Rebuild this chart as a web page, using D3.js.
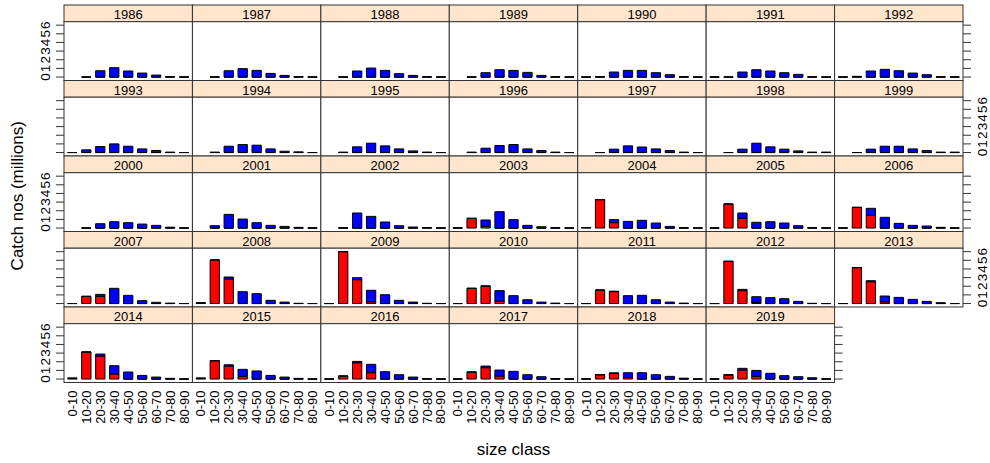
<!DOCTYPE html>
<html>
<head>
<meta charset="utf-8">
<script src="https://cdn.jsdelivr.net/npm/d3@7"></script>
<style>
  body { margin: 0; background: #fff; }
  text { font-family: "Liberation Sans", Arial, sans-serif; fill: #000; }
</style>
</head>
<body>
<div id="chart"></div>
<script>
// catch numbers (millions) by size class, two stacked series
var years = d3.range(1986, 2020);
var sizeClasses = ["0-10", "10-20", "20-30", "30-40", "40-50", "50-60", "60-70", "70-80", "80-90"];
var yTicks = [0, 1, 2, 3, 4, 5, 6];

// red = bottom segment, blue = top segment; null = no bar
var redCatch = [
  [null, 0, 0, 0, 0, 0, 0, 0, 0],            // 1986
  [null, 0, 0, 0, 0, 0, 0, 0, 0],            // 1987
  [null, 0, 0, 0, 0, 0, 0, 0, 0],            // 1988
  [null, 0, 0, 0, 0, 0, 0, 0, 0],            // 1989
  [0, 0, 0, 0, 0, 0, 0, 0, 0],               // 1990
  [0, 0, 0, 0, 0, 0, 0, 0, 0],               // 1991
  [0, 0, 0, 0, 0, 0, 0, 0, 0],               // 1992
  [0, 0, 0, 0, 0, 0, 0, 0, 0],               // 1993
  [null, 0, 0, 0, 0, 0, 0, 0, 0],            // 1994
  [null, 0, 0, 0, 0, 0, 0, 0, 0],            // 1995
  [null, 0, 0, 0, 0, 0, 0, 0, 0],            // 1996
  [null, 0, 0, 0, 0, 0, 0, 0, 0],            // 1997
  [null, 0, 0, 0, 0, 0, 0, 0, 0],            // 1998
  [null, 0, 0, 0, 0, 0, 0, 0, 0],            // 1999
  [null, 0, 0, 0, 0, 0, 0, 0, 0],            // 2000
  [null, 0, 0, 0, 0, 0, 0, 0, 0],            // 2001
  [null, 0, 0, 0, 0, 0, 0, 0, 0],            // 2002
  [0, 1.12, 0.2, 0, 0, 0, 0, 0, 0],          // 2003
  [0.05, 3.28, 0.62, 0, 0, 0, 0, 0, 0],      // 2004
  [0, 2.78, 1.12, 0, 0, 0, 0, 0, 0],         // 2005
  [0, 2.39, 1.47, 0, 0, 0, 0, 0, 0],         // 2006
  [0, 0.83, 0.83, 0, 0, 0, 0, 0, 0],         // 2007
  [0.08, 5.04, 2.84, 0, 0, 0, 0, 0, 0],      // 2008
  [0, 6.0, 2.76, 0.2, 0, 0, 0, 0, 0],        // 2009
  [0, 1.76, 2.0, 0.29, 0, 0, 0, 0, 0],       // 2010
  [0, 1.56, 1.38, 0, 0, 0, 0, 0, 0],         // 2011
  [0, 4.88, 1.49, 0.15, 0, 0, 0, 0, 0],      // 2012
  [0, 4.15, 2.53, 0.2, 0, 0, 0, 0, 0],       // 2013
  [0.1, 3.13, 2.66, 0.58, 0, 0, 0, 0, 0],    // 2014
  [0.1, 2.12, 1.5, 0.31, 0, 0, 0, 0, 0],     // 2015
  [0, 0.35, 1.89, 0.73, 0, 0, 0, 0, 0],      // 2016
  [0, 0.81, 1.31, 0.35, 0, 0, 0, 0, 0],      // 2017
  [0, 0.5, 0.66, 0.19, 0, 0, 0, 0, 0],       // 2018
  [0, 0.46, 1.04, 0.31, 0, 0, 0, 0, 0]       // 2019
];
var blueCatch = [
  [null, 0, 0.73, 1.08, 0.7, 0.46, 0.23, 0.05, 0],     // 1986
  [null, 0, 0.73, 0.97, 0.77, 0.42, 0.19, 0.05, 0],    // 1987
  [null, 0, 0.7, 1.04, 0.77, 0.39, 0.19, 0.03, 0],     // 1988
  [null, 0, 0.5, 0.85, 0.77, 0.54, 0.19, 0.03, 0],     // 1989
  [0, 0.05, 0.58, 0.77, 0.77, 0.5, 0.27, 0.03, 0],     // 1990
  [0, 0, 0.58, 0.85, 0.7, 0.5, 0.31, 0.03, 0],         // 1991
  [0, 0.08, 0.7, 0.89, 0.73, 0.46, 0.27, 0.03, 0],     // 1992
  [0, 0.31, 0.7, 1.0, 0.73, 0.42, 0.23, 0.05, 0],      // 1993
  [null, 0.05, 0.73, 0.93, 0.85, 0.42, 0.15, 0.08, 0], // 1994
  [null, 0.05, 0.66, 1.08, 0.77, 0.42, 0.19, 0.05, 0], // 1995
  [null, 0.05, 0.5, 0.81, 0.93, 0.42, 0.23, 0.05, 0],  // 1996
  [null, 0, 0.39, 0.77, 0.64, 0.42, 0.23, 0.05, 0],    // 1997
  [null, 0, 0.39, 1.08, 0.66, 0.39, 0.19, 0.05, 0.05], // 1998
  [null, 0, 0.39, 0.73, 0.73, 0.42, 0.23, 0.05, 0.05], // 1999
  [null, 0, 0.5, 0.73, 0.62, 0.46, 0.31, 0.1, 0],      // 2000
  [null, 0.27, 1.58, 1.04, 0.62, 0.31, 0.19, 0.08, 0], // 2001
  [null, 0.05, 1.74, 1.35, 0.7, 0.27, 0.12, 0.05, 0],  // 2002
  [0.03, 0, 0.73, 1.89, 0.97, 0.31, 0.15, 0.03, 0],    // 2003
  [0, 0, 0.35, 0.77, 0.89, 0.58, 0.19, 0.03, 0],       // 2004
  [0, 0, 0.62, 0.66, 0.73, 0.58, 0.27, 0.03, 0],       // 2005
  [0, 0, 0.81, 1.24, 0.54, 0.31, 0.23, 0.08, 0],       // 2006
  [0, 0, 0.23, 1.76, 0.95, 0.33, 0.14, 0.05, 0],       // 2007
  [0, 0, 0.23, 1.37, 1.14, 0.37, 0.17, 0.03, 0],       // 2008
  [0, 0, 0.23, 1.33, 1.02, 0.37, 0.17, 0.03, 0],       // 2009
  [0, 0, 0.05, 1.2, 0.91, 0.44, 0.17, 0.05, 0],        // 2010
  [0, 0, 0.05, 0.91, 0.95, 0.44, 0.17, 0.05, 0],       // 2011
  [0, 0, 0.15, 0.64, 0.68, 0.56, 0.25, 0.03, 0],       // 2012
  [0, 0, 0.11, 0.67, 0.71, 0.48, 0.25, 0.1, 0],        // 2013
  [0, 0, 0.23, 0.96, 0.81, 0.42, 0.23, 0.08, 0],       // 2014
  [0, 0, 0.15, 0.81, 0.93, 0.42, 0.23, 0.08, 0],       // 2015
  [0, 0, 0.15, 0.97, 0.85, 0.5, 0.23, 0.05, 0],        // 2016
  [0, 0, 0.19, 0.69, 0.89, 0.5, 0.27, 0.05, 0],        // 2017
  [0, 0, 0.05, 0.54, 0.73, 0.5, 0.31, 0.1, 0],         // 2018
  [0, 0.05, 0.2, 0.69, 0.66, 0.39, 0.27, 0.15, 0]      // 2019
];

var w = 990, h = 463;
var nCol = 7;
var gridLeft = 64, gridRight = 963, gridTop = 5;
var pw = (gridRight - gridLeft) / nCol;
var rowH = 75.5;
var stripH = 16.7;
var nRow = Math.ceil(years.length / nCol);

var svg = d3.select("#chart").append("svg")
    .attr("width", w)
    .attr("height", h);

// lattice style: factor limits 0.4 .. n+0.6, bar width = 2/3
var x = d3.scaleLinear()
    .domain([0.4, sizeClasses.length + 0.6])
    .range([0, pw]);
var barW = (x(1) - x(0)) * 2 / 3;

var y = d3.scaleLinear()
    .domain([-0.4, 6.4])
    .range([rowH - stripH, 0]);

function barPath(i, lo, hi) {
    var x0 = x(i + 1) - barW / 2;
    var y0 = y(lo), y1 = y(hi);
    return "M" + x0 + "," + y0 + "H" + (x0 + barW) + "V" + y1 + "H" + x0 + "Z";
}

years.forEach(function(yr, k) {
    var col = k % nCol, row = Math.floor(k / nCol);
    var px = gridLeft + col * pw;
    var py = gridTop + row * rowH;
    var g = svg.append("g").attr("transform", "translate(" + px + "," + py + ")");

    // strip
    g.append("rect")
        .attr("width", pw).attr("height", stripH)
        .attr("fill", "#ffe5cc").attr("stroke", "#333").attr("stroke-width", 1);
    g.append("text")
        .attr("x", pw / 2).attr("y", 14.2)
        .attr("text-anchor", "middle")
        .style("font-size", "13px")
        .text(yr);

    var p = g.append("g").attr("transform", "translate(0," + stripH + ")");
    p.append("rect")
        .attr("width", pw).attr("height", rowH - stripH)
        .attr("fill", "#fff").attr("stroke", "#333").attr("stroke-width", 1);

    var red = redCatch[k], blue = blueCatch[k];
    sizeClasses.forEach(function(sc, i) {
        if (red[i] === null) return;
        p.append("path")
            .attr("d", barPath(i, 0, red[i]))
            .attr("fill", "#ff0000").attr("stroke", "#000").attr("stroke-width", 1);
        p.append("path")
            .attr("d", barPath(i, red[i], red[i] + blue[i]))
            .attr("fill", "#0000ff").attr("stroke", "#000").attr("stroke-width", 1);
    });

    // y axis: alternating sides like lattice
    var leftEdge = col === 0;
    var rightEdge = col === nCol - 1 || k === years.length - 1;
    var labelLeft = row % 2 === 0;
    if (leftEdge) {
        var ax = p.append("g");
        ax.selectAll("line").data(yTicks).enter().append("line")
            .attr("x1", -8).attr("x2", 0)
            .attr("y1", function(d) { return y(d); })
            .attr("y2", function(d) { return y(d); })
            .attr("stroke", "#333");
        if (labelLeft) {
            ax.selectAll("text").data(yTicks).enter().append("text")
                .attr("transform", function(d) { return "translate(" + (-14) + "," + y(d) + ") rotate(-90)"; })
                .attr("text-anchor", "middle")
                .style("font-size", "13.5px")
                .text(function(d) { return d; });
        }
    }
    if (rightEdge) {
        var ax2 = p.append("g").attr("transform", "translate(" + pw + ",0)");
        ax2.selectAll("line").data(yTicks).enter().append("line")
            .attr("x1", 0).attr("x2", 8)
            .attr("y1", function(d) { return y(d); })
            .attr("y2", function(d) { return y(d); })
            .attr("stroke", "#333");
        if (!labelLeft) {
            ax2.selectAll("text").data(yTicks).enter().append("text")
                .attr("transform", function(d) { return "translate(" + 24 + "," + y(d) + ") rotate(-90)"; })
                .attr("text-anchor", "middle")
                .style("font-size", "13.5px")
                .text(function(d) { return d; });
        }
    }

    // x labels on bottom row
    if (row === nRow - 1) {
        p.selectAll(".xl").data(sizeClasses).enter().append("text")
            .attr("class", "xl")
            .attr("transform", function(d, i) {
                return "translate(" + x(i + 1) + "," + (rowH - stripH + 8) + ") rotate(-90)";
            })
            .attr("text-anchor", "end")
            .attr("dy", "0.35em")
            .style("font-size", "13px")
            .text(function(d) { return d; });
    }
});

svg.append("text")
    .attr("transform", "translate(23," + (gridTop + nRow * rowH / 2 + 2) + ") rotate(-90)")
    .attr("text-anchor", "middle")
    .style("font-size", "17px")
    .text("Catch nos (millions)");

svg.append("text")
    .attr("x", (gridLeft + gridRight) / 2)
    .attr("y", 455)
    .attr("text-anchor", "middle")
    .style("font-size", "17px")
    .text("size class");
</script>
</body>
</html>
